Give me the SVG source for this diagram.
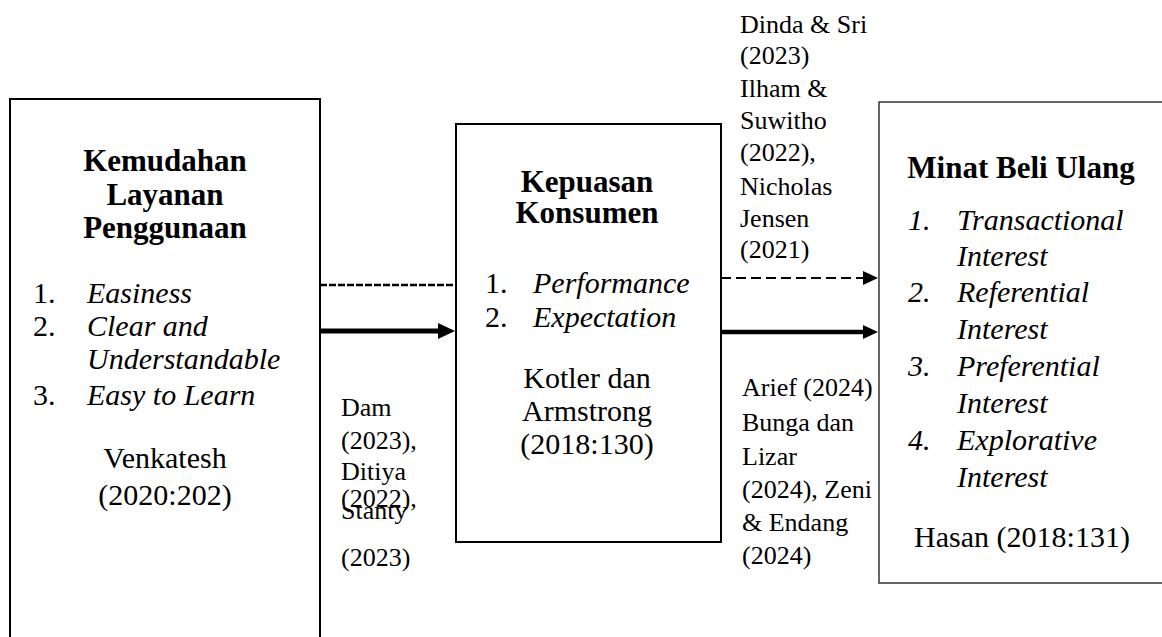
<svg xmlns="http://www.w3.org/2000/svg" width="1162" height="637" viewBox="0 0 1162 637">
<style>
text{font-family:"Liberation Serif","Times New Roman",serif;fill:#000}
.h{font-weight:bold;font-size:31px;text-anchor:middle}
.b{font-size:30px}
.m{text-anchor:middle}
.i{font-style:italic}
.c{font-size:26px}
.box{fill:#fff;stroke:#000;stroke-width:2}
.box2{fill:#fff;stroke:#333;stroke-width:1.5}
</style>
<defs>
<marker id="ahL" markerUnits="userSpaceOnUse" markerWidth="17" markerHeight="16" refX="9" refY="8" orient="auto"><path d="M0,0 L17,8 L0,16 z" fill="#000"/></marker>
<marker id="ahR" markerUnits="userSpaceOnUse" markerWidth="15" markerHeight="14" refX="7" refY="7" orient="auto"><path d="M0,0 L15,7 L0,14 z" fill="#000"/></marker>
<clipPath id="stclip"><rect x="330" y="507" width="100" height="30"/></clipPath>
</defs>
<rect width="1162" height="637" fill="#fff"/>

<g id="node-kemudahan">
<rect class="box" x="10" y="99" width="310" height="570"/>
<text class="h" x="165" y="171">Kemudahan</text>
<text class="h" x="165" y="205">Layanan</text>
<text class="h" x="165" y="238">Penggunaan</text>
<text class="b" x="33" y="303">1.</text><text class="b i" x="87" y="303">Easiness</text>
<text class="b" x="33" y="336">2.</text><text class="b i" x="87" y="336">Clear and</text>
<text class="b i" x="87" y="369">Understandable</text>
<text class="b" x="33" y="405">3.</text><text class="b i" x="87" y="405">Easy to Learn</text>
<text class="b m" x="165" y="468">Venkatesh</text>
<text class="b m" x="165" y="505">(2020:202)</text>
</g>

<g id="node-kepuasan">
<rect class="box" x="456" y="124" width="265" height="418"/>
<text class="h" x="587" y="192">Kepuasan</text>
<text class="h" x="587" y="223">Konsumen</text>
<text class="b" x="485" y="293">1.</text><text class="b i" x="533" y="293">Performance</text>
<text class="b" x="485" y="327">2.</text><text class="b i" x="533" y="327">Expectation</text>
<text class="b m" x="587" y="388">Kotler dan</text>
<text class="b m" x="587" y="421">Armstrong</text>
<text class="b m" x="587" y="454">(2018:130)</text>
</g>

<g id="node-minat">
<rect class="box2" x="879" y="102" width="300" height="481"/>
<text class="h" x="1021" y="178">Minat Beli Ulang</text>
<text class="b i" x="908" y="230">1.</text><text class="b i" x="957" y="230">Transactional</text>
<text class="b i" x="957" y="266">Interest</text>
<text class="b i" x="908" y="302">2.</text><text class="b i" x="957" y="302">Referential</text>
<text class="b i" x="957" y="339">Interest</text>
<text class="b i" x="908" y="376">3.</text><text class="b i" x="957" y="376">Preferential</text>
<text class="b i" x="957" y="413">Interest</text>
<text class="b i" x="908" y="450">4.</text><text class="b i" x="957" y="450">Explorative</text>
<text class="b i" x="957" y="487">Interest</text>
<text class="b m" x="1022" y="547">Hasan (2018:131)</text>
</g>

<g id="connectors">
<line x1="320" y1="285" x2="456" y2="285" stroke="#000" stroke-width="2.5" stroke-dasharray="7 2"/>
<line x1="320" y1="331" x2="447" y2="331" stroke="#000" stroke-width="5" marker-end="url(#ahL)"/>
<line x1="721" y1="278" x2="870" y2="278" stroke="#000" stroke-width="2" stroke-dasharray="10 5" marker-end="url(#ahR)"/>
<line x1="721" y1="332" x2="870" y2="332" stroke="#000" stroke-width="4.5" marker-end="url(#ahR)"/>
</g>

<g id="labels">
<text class="c" x="740" y="33">Dinda &amp; Sri</text>
<text class="c" x="740" y="64">(2023)</text>
<text class="c" x="740" y="97">Ilham &amp;</text>
<text class="c" x="740" y="129">Suwitho</text>
<text class="c" x="740" y="161">(2022),</text>
<text class="c" x="740" y="195">Nicholas</text>
<text class="c" x="740" y="227">Jensen</text>
<text class="c" x="740" y="258">(2021)</text>
<text class="c" x="742" y="396">Arief (2024)</text>
<text class="c" x="742" y="431">Bunga dan</text>
<text class="c" x="742" y="465">Lizar</text>
<text class="c" x="742" y="498">(2024), Zeni</text>
<text class="c" x="742" y="531">&amp; Endang</text>
<text class="c" x="742" y="564">(2024)</text>
<text class="c" x="341" y="416">Dam</text>
<text class="c" x="341" y="449">(2023),</text>
<text class="c" x="341" y="480">Ditiya</text>
<text class="c" x="341" y="519" clip-path="url(#stclip)">Stanty</text>
<text class="c" x="341" y="507">(2022),</text>
<text class="c" x="341" y="566">(2023)</text>
</g>
</svg>
